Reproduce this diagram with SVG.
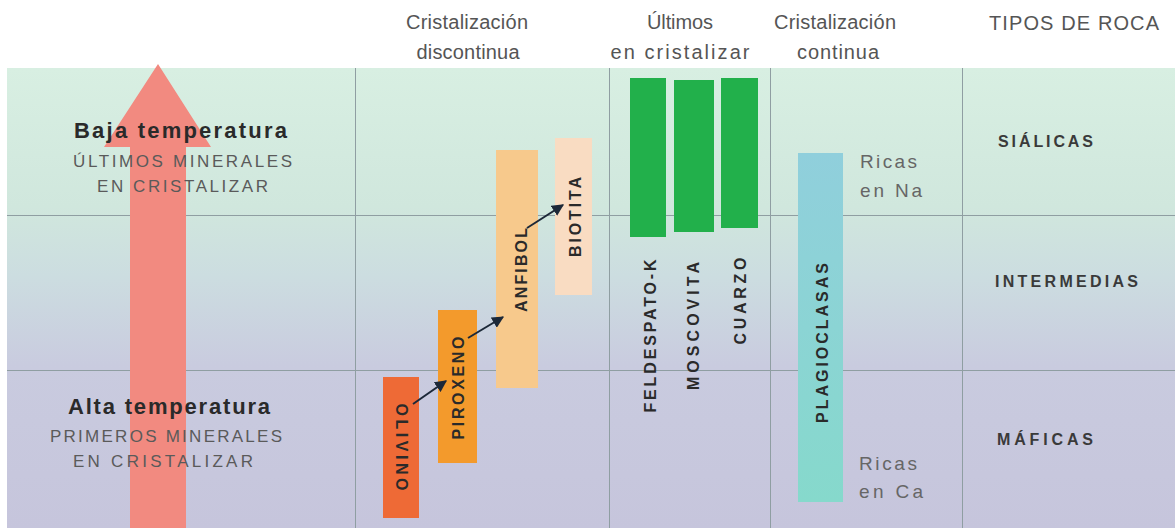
<svg xmlns="http://www.w3.org/2000/svg" width="1175" height="528" viewBox="0 0 1175 528">
<style>
  .hdr { font-family: "Liberation Sans", Arial, sans-serif; font-size: 20px; fill: #555; }
  .ttl { font-family: "Liberation Sans", Arial, sans-serif; font-size: 22px; font-weight: bold; fill: #2a2a2a; }
  .sub { font-family: "Liberation Sans", Arial, sans-serif; font-size: 17px; fill: #5a5a5a; }
  .rock { font-family: "Liberation Sans", Arial, sans-serif; font-size: 16px; font-weight: bold; fill: #3a3a3a; }
  .ricas { font-family: "Liberation Sans", Arial, sans-serif; font-size: 19px; fill: #666; }
  .lbl { font-family: "Liberation Sans", Arial, sans-serif; font-size: 16px; font-weight: bold; fill: #2a2a2a; }
  .grid { stroke: #8f9ea2; stroke-width: 1; fill: none; }
  .conn { stroke: #1c2838; stroke-width: 2; fill: none; marker-end: url(#ah); }
</style>
<defs>
  <linearGradient id="bg" x1="0" y1="68" x2="0" y2="528" gradientUnits="userSpaceOnUse">
    <stop offset="0" stop-color="#d8efe2"/>
    <stop offset="0.3" stop-color="#d0e7dd"/>
    <stop offset="0.45" stop-color="#ccdde0"/>
    <stop offset="0.65" stop-color="#c9cbdf"/>
    <stop offset="1" stop-color="#c6c5dc"/>
  </linearGradient>
  <linearGradient id="plag" x1="0" y1="153" x2="0" y2="502" gradientUnits="userSpaceOnUse">
    <stop offset="0" stop-color="#90cfdc"/>
    <stop offset="1" stop-color="#86d9cc"/>
  </linearGradient>
  <marker id="ah" viewBox="0 0 10 10" refX="9" refY="5" markerWidth="6" markerHeight="6" orient="auto" markerUnits="strokeWidth">
    <path d="M0,0 L10,5 L0,10 Z" fill="#1c2838"/>
  </marker>
</defs>
<rect x="0" y="0" width="1175" height="528" fill="#ffffff"/>
<rect x="7" y="68" width="1168" height="460" fill="url(#bg)"/>

<g id="grid">
  <line class="grid" x1="7" y1="215.5" x2="1175" y2="215.5"/>
  <line class="grid" x1="7" y1="370.5" x2="1175" y2="370.5"/>
  <line class="grid" x1="355.5" y1="68" x2="355.5" y2="528"/>
  <line class="grid" x1="609.5" y1="68" x2="609.5" y2="528"/>
  <line class="grid" x1="770.5" y1="68" x2="770.5" y2="528"/>
  <line class="grid" x1="962.5" y1="68" x2="962.5" y2="528"/>
</g>

<g id="headers">
  <text class="hdr" x="467" y="29" text-anchor="middle" textLength="122" lengthAdjust="spacing">Cristalización</text>
  <text class="hdr" x="468" y="59" text-anchor="middle" textLength="103" lengthAdjust="spacing">discontinua</text>
  <text class="hdr" x="680" y="29" text-anchor="middle" textLength="66" lengthAdjust="spacing">Últimos</text>
  <text class="hdr" x="680" y="59" text-anchor="middle" textLength="139" lengthAdjust="spacing">en cristalizar</text>
  <text class="hdr" x="835" y="29" text-anchor="middle" textLength="122" lengthAdjust="spacing">Cristalización</text>
  <text class="hdr" x="838" y="59" text-anchor="middle" textLength="82" lengthAdjust="spacing">continua</text>
  <text class="hdr" x="1074" y="30" text-anchor="middle" font-size="17" textLength="170" lengthAdjust="spacing">TIPOS DE ROCA</text>
</g>

<g id="temp-arrow">
  <polygon points="158,64 211,147 186,147 186,528 130,528 130,147 104,147" fill="#f28a80"/>
</g>

<g id="baja">
  <text class="ttl" x="74" y="138" textLength="213" lengthAdjust="spacing">Baja temperatura</text>
  <text class="sub" x="73" y="167" textLength="219" lengthAdjust="spacing">ÚLTIMOS MINERALES</text>
  <text class="sub" x="97" y="192" textLength="171" lengthAdjust="spacing">EN CRISTALIZAR</text>
</g>
<g id="alta">
  <text class="ttl" x="68" y="414" textLength="202" lengthAdjust="spacing">Alta temperatura</text>
  <text class="sub" x="50" y="442" textLength="232" lengthAdjust="spacing">PRIMEROS MINERALES</text>
  <text class="sub" x="73" y="467" textLength="180" lengthAdjust="spacing">EN CRISTALIZAR</text>
</g>

<g id="olivino">
  <rect x="383" y="377" width="36" height="141" fill="#ee6a36"/>
  <text class="lbl" transform="translate(402,447) rotate(90)" text-anchor="middle" dy="0.35em" textLength="87" lengthAdjust="spacing">OLIVINO</text>
</g>
<g id="piroxeno">
  <rect x="438" y="310" width="39" height="153" fill="#f39a2c"/>
  <text class="lbl" transform="translate(458,388) rotate(-90)" text-anchor="middle" dy="0.35em" textLength="103" lengthAdjust="spacing">PIROXENO</text>
</g>
<g id="anfibol">
  <rect x="496" y="150" width="42" height="238" fill="#f7c98c"/>
  <text class="lbl" transform="translate(521,270) rotate(-90)" text-anchor="middle" dy="0.35em" textLength="84" lengthAdjust="spacing">ANFIBOL</text>
</g>
<g id="biotita">
  <rect x="555" y="138" width="37" height="157" fill="#f9dcc2"/>
  <text class="lbl" transform="translate(575,217) rotate(-90)" text-anchor="middle" dy="0.35em" textLength="80" lengthAdjust="spacing">BIOTITA</text>
</g>

<g id="feldespato">
  <rect x="630" y="78" width="36" height="159" fill="#22b04b"/>
  <text class="lbl" transform="translate(650,336) rotate(-90)" text-anchor="middle" dy="0.35em" textLength="153" lengthAdjust="spacing">FELDESPATO-K</text>
</g>
<g id="moscovita">
  <rect x="674" y="80" width="40" height="152" fill="#22b04b"/>
  <text class="lbl" transform="translate(693,326) rotate(-90)" text-anchor="middle" dy="0.35em" textLength="128" lengthAdjust="spacing">MOSCOVITA</text>
</g>
<g id="cuarzo">
  <rect x="721" y="78" width="37" height="150" fill="#22b04b"/>
  <text class="lbl" transform="translate(740,301) rotate(-90)" text-anchor="middle" dy="0.35em" textLength="87" lengthAdjust="spacing">CUARZO</text>
</g>

<g id="plagioclasas">
  <rect x="798" y="153" width="45" height="349" fill="url(#plag)"/>
  <text class="lbl" transform="translate(822,343) rotate(-90)" text-anchor="middle" dy="0.35em" textLength="160" lengthAdjust="spacing">PLAGIOCLASAS</text>
  <text class="ricas" x="860" y="168" textLength="57" lengthAdjust="spacing">Ricas</text>
  <text class="ricas" x="860" y="197" textLength="62" lengthAdjust="spacing">en Na</text>
  <text class="ricas" x="859" y="470" textLength="58" lengthAdjust="spacing">Ricas</text>
  <text class="ricas" x="859" y="498" textLength="64" lengthAdjust="spacing">en Ca</text>
</g>

<g id="rock-types">
  <text class="rock" x="998" y="147" textLength="95" lengthAdjust="spacing">SIÁLICAS</text>
  <text class="rock" x="995" y="287" textLength="143" lengthAdjust="spacing">INTERMEDIAS</text>
  <text class="rock" x="997" y="445" textLength="96" lengthAdjust="spacing">MÁFICAS</text>
</g>

<g id="connectors">
  <line class="conn" x1="413" y1="404" x2="446" y2="381"/>
  <line class="conn" x1="468" y1="338" x2="503" y2="317"/>
  <line class="conn" x1="527" y1="228" x2="563" y2="205"/>
</g>
</svg>
